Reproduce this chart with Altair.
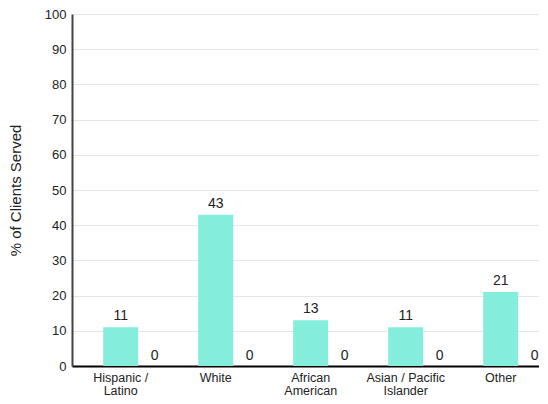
import altair as alt
import pandas as pd

categories = ["Hispanic /\nLatino", "White", "African\nAmerican", "Asian / Pacific\nIslander", "Other"]
served = [11, 43, 13, 11, 21]
second = [0, 0, 0, 0, 0]
y_ticks = [0, 10, 20, 30, 40, 50, 60, 70, 80, 90, 100]

df = pd.DataFrame({"category": categories, "served": served, "second": second})

x = alt.X("category:N", sort=categories, title=None,
          scale=alt.Scale(paddingInner=0.6316, paddingOuter=0.2737, align=0.6),
          axis=alt.Axis(labelAngle=0, labelExpr="split(datum.label, '\\n')",
                        labelFontSize=12.5, labelColor="#222", labelFont="Liberation Sans",
                        labelPadding=5, labelLineHeight=13, ticks=False,
                        domainColor="#000", domainWidth=2, grid=False))
y_axis = alt.Axis(values=y_ticks, labelFontSize=13, labelColor="#222",
                  labelFont="Liberation Sans", labelPadding=6, ticks=False,
                  domainColor="#444", domainWidth=2, gridColor="#e6e6e6",
                  titleFontSize=15, titleFontWeight="normal", titleColor="#222",
                  titleFont="Liberation Sans", titlePadding=21)
scale_y = alt.Scale(domain=[0, 100], nice=False)

bars = alt.Chart(df).mark_bar(color="#84EDDC").encode(
    x=x, y=alt.Y("served:Q", title="% of Clients Served", scale=scale_y, axis=y_axis))
vals = alt.Chart(df).mark_text(baseline="bottom", dy=-4, fontSize=14, color="#222",
                               font="Liberation Sans").encode(
    x=x, y=alt.Y("served:Q", title="% of Clients Served", scale=scale_y, axis=y_axis),
    text="served:Q")
zeros = alt.Chart(df).mark_text(baseline="bottom", dy=-3, dx=34, fontSize=14, color="#222",
                                font="Liberation Sans").encode(
    x=x, y=alt.Y("second:Q", title="% of Clients Served", scale=scale_y, axis=y_axis),
    text="second:Q")

chart = (bars + vals + zeros).properties(
    width=467, height=352,
    autosize=alt.AutoSizeParams(type="none"),
    padding={"left": 64, "top": 6, "right": 0, "bottom": 30},
).configure_view(stroke=None)

chart.save("out.html", embed_options={"renderer": "svg", "actions": False})
